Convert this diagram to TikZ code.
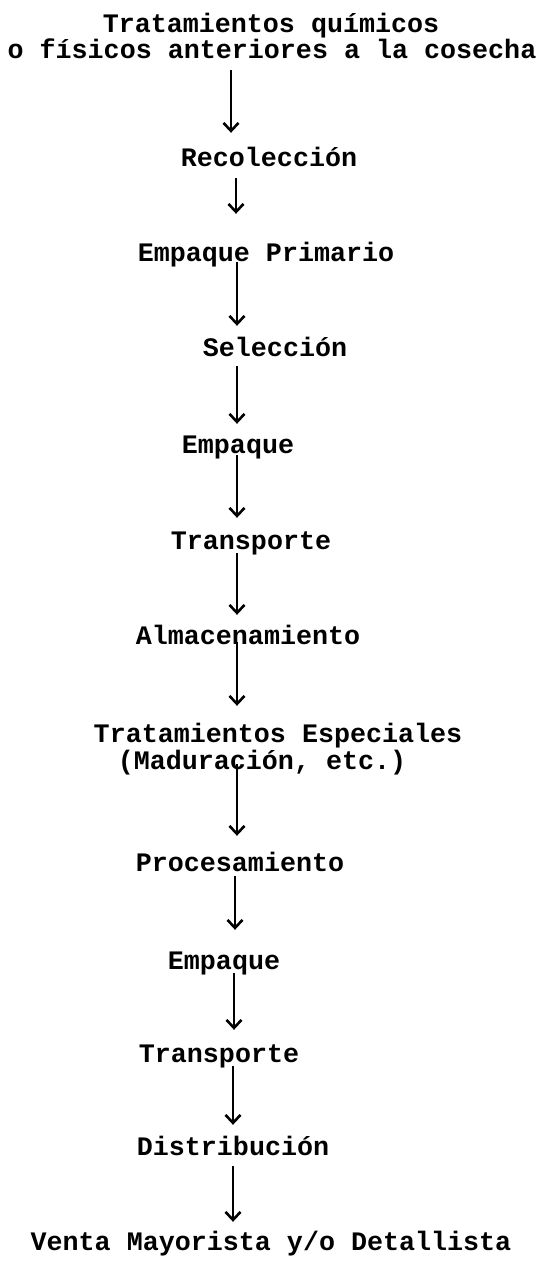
\documentclass[tikz,border=0pt]{standalone}
\usepackage{fontspec}
\setmonofont{Liberation Mono}
\usetikzlibrary{arrows.meta}
\begin{document}
\begin{tikzpicture}[x=1pt,y=-1pt,
  lbl/.style={anchor=base,inner sep=0pt,text height=16pt,text depth=5pt,
    font=\fontsize{26.7pt}{27pt}\selectfont\ttfamily\bfseries},
  arr/.style={line width=2.8pt,-{Straight Barb[length=8pt,width=15pt,line width=2.6pt]}}]
\fill[white] (0,0) rectangle (544,1261);
\node[lbl] (t1) at (271,32) {Tratamientos químicos};
\node[lbl] (t2) at (272,58) {o físicos anteriores a la cosecha};
\node[lbl] (rec) at (269,166) {Recolección};
\node[lbl] (ep) at (266,261) {Empaque Primario};
\node[lbl] (sel) at (275,356) {Selección};
\node[lbl] (emp1) at (238,453) {Empaque};
\node[lbl] (tr1) at (251,549) {Transporte};
\node[lbl] (alm) at (248,644) {Almacenamiento};
\node[lbl] (te) at (278,742) {Tratamientos Especiales};
\node[lbl] (mad) at (262,769) {(Maduración, etc.)};
\node[lbl] (proc) at (240,871) {Procesamiento};
\node[lbl] (emp2) at (224,969) {Empaque};
\node[lbl] (tr2) at (219,1062) {Transporte};
\node[lbl] (dist) at (233,1155) {Distribución};
\node[lbl] (vta) at (271,1250) {Venta Mayorista y/o Detallista};
\coordinate (x1) at (231,0);
\coordinate (x2) at (236,0);
\coordinate (x3) at (237,0);
\coordinate (x9) at (235,0);
\coordinate (x10) at (234,0);
\coordinate (x11) at (233,0);
\draw[arr,shorten <=7pt,shorten >=17pt] (t2.south -| x1) -- (rec.north -| x1);
\draw[arr,shorten <=7pt,shorten >=31pt] (rec.south -| x2) -- (ep.north -| x2);
\draw[arr,shorten <=-4pt,shorten >=14pt] (ep.south -| x3) -- (sel.north -| x3);
\draw[arr,shorten <=5pt,shorten >=13pt] (sel.south -| x3) -- (emp1.north -| x3);
\draw[arr,shorten <=-3pt,shorten >=15pt] (emp1.south -| x3) -- (tr1.north -| x3);
\draw[arr,shorten <=-1pt,shorten >=13pt] (tr1.south -| x3) -- (alm.north -| x3);
\draw[arr,shorten <=-7pt,shorten >=20pt] (alm.south -| x3) -- (te.north -| x3);
\draw[arr,shorten <=-10pt,shorten >=19pt] (mad.south -| x3) -- (proc.north -| x3);
\draw[arr,shorten <=0pt,shorten >=23pt] (proc.south -| x9) -- (emp2.north -| x9);
\draw[arr,shorten <=-1pt,shorten >=16pt] (emp2.south -| x10) -- (tr2.north -| x10);
\draw[arr,shorten <=-1pt,shorten >=14pt] (tr2.south -| x11) -- (dist.north -| x11);
\draw[arr,shorten <=6pt,shorten >=12pt] (dist.south -| x11) -- (vta.north -| x11);
\end{tikzpicture}
\end{document}
